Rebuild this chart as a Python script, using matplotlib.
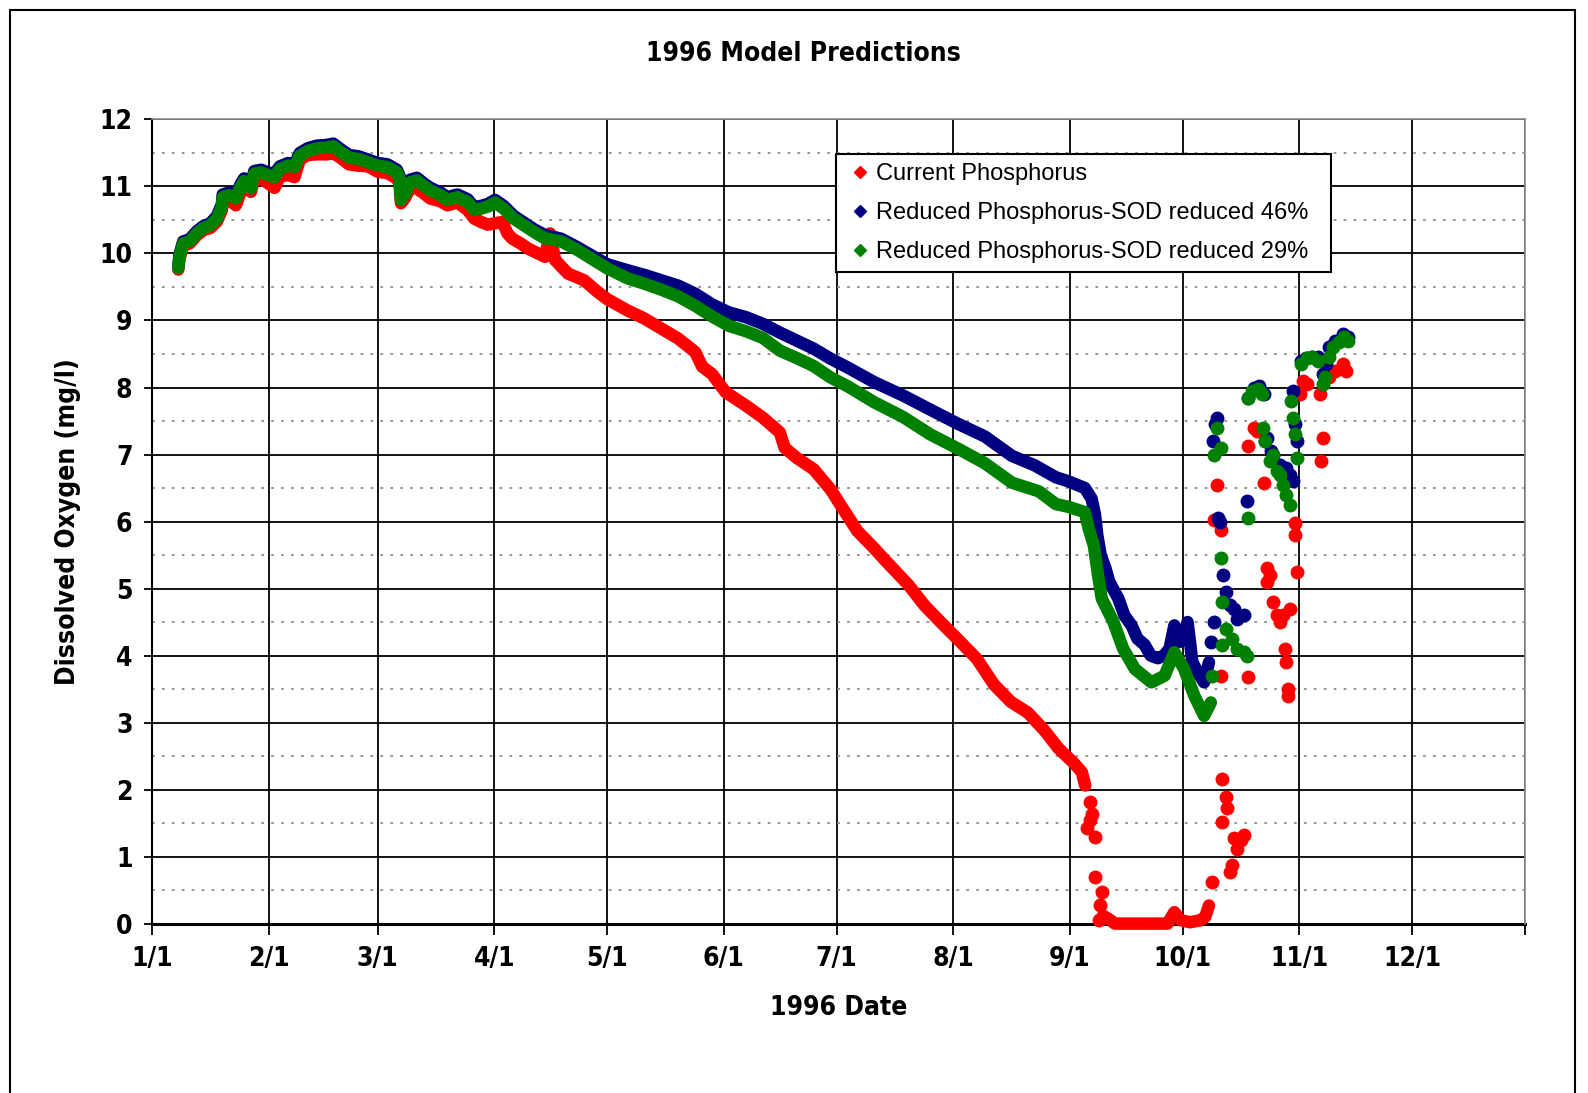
import matplotlib
matplotlib.use('Agg')
import matplotlib.pyplot as plt
from matplotlib.lines import Line2D
from matplotlib.patches import Rectangle
from matplotlib import font_manager
import pandas as pd

# day of year (0 = Jan 1, 1996) and dissolved oxygen (mg/l)
red_days = [7.0, 7.3, 8.3, 10, 11.9, 13.7, 15.5, 17.3, 18.6, 18.8, 20.5, 22.3, 23.6, 24.5, 26.3, 27.2,
            29, 30.8, 32.6, 34, 36.2, 37.9, 39.3, 41.4, 43.9, 46.5, 48.2, 50.3, 52.4, 54.9, 57.5, 60,
            62.6, 65.1, 65.8, 66.2, 67.3, 68.6, 70.4, 72.2, 74, 76.7, 78.5, 81.2, 83.9, 85.7, 87.5,
            89.3, 91, 93.2, 94.5, 95.8, 98, 100.1, 104.5, 105.8, 107.2, 110.6, 114.9, 118.4, 121,
            126.4, 130.9, 135.4, 139.9, 144.4, 146.3, 148.9, 152.5, 157.9, 162.4, 166.9, 168.2, 171.4,
            175.9, 180.4, 183, 187.5, 192, 195.6, 201, 205.5, 210, 214.8, 219.3, 223.8, 228.3, 232.8,
            237.3, 240.9, 242, 245, 247.2, 248.1]
red_do = [9.76, 9.92, 10.12, 10.15, 10.27, 10.35, 10.38, 10.48, 10.65, 10.78, 10.8, 10.72, 10.92, 11.0,
          10.92, 11.12, 11.12, 11.05, 10.98, 11.15, 11.17, 11.14, 11.4, 11.47, 11.48, 11.48, 11.5,
          11.42, 11.33, 11.31, 11.3, 11.22, 11.2, 11.12, 11.05, 10.75, 10.83, 10.98, 10.97, 10.9,
          10.82, 10.78, 10.72, 10.76, 10.65, 10.52, 10.47, 10.43, 10.45, 10.47, 10.3, 10.22, 10.15,
          10.07, 9.95, 10.3, 9.9, 9.7, 9.6, 9.43, 9.32, 9.15, 9.03, 8.88, 8.73, 8.53, 8.31, 8.2, 7.93,
          7.73, 7.55, 7.33, 7.1, 6.95, 6.78, 6.48, 6.25, 5.86, 5.6, 5.38, 5.06, 4.74, 4.48, 4.21,
          3.95, 3.57, 3.31, 3.15, 2.88, 2.62, 2.56, 2.4, 2.26, 2.06]
red_zero_days = [252.8, 254.3, 256, 260, 265, 270, 271.8, 273.5, 276, 278.8, 280, 281]
red_zero_do = [0.12, 0.07, 0.0, 0.0, 0.0, 0.0, 0.17, 0.05, 0.02, 0.05, 0.1, 0.27]
red_pt_days = [249.4, 249.9, 248.6, 250.8, 249.5, 250.8, 252.5, 252.1, 251.7, 281.9, 282.3, 283.2,
               284.1, 284.1, 284.5, 285.4, 285.8, 284.5, 286.7, 287.1, 287.6, 288.5, 289.5, 290.2,
               291.5, 291.5, 292.9, 293.8, 295.5, 296.4, 296.4, 297.2, 298.1, 299.0, 299.9, 300.8,
               302.5, 301.2, 301.6, 302.1, 302.1, 303.8, 303.8, 304.3, 305.2, 306.0, 307.0, 310.4,
               310.9, 311.3, 313.0, 314.5, 316.5, 317.4]
red_pt_do = [1.82, 1.64, 1.42, 1.29, 1.55, 0.7, 0.47, 0.27, 0.05, 0.62, 6.02, 6.55, 5.87, 3.7, 2.16,
             1.89, 1.72, 1.52, 0.77, 0.87, 1.27, 1.12, 1.25, 1.32, 3.68, 7.12, 7.4, 7.35, 6.57, 5.3,
             5.1, 5.2, 4.8, 4.6, 4.5, 4.6, 4.7, 4.1, 3.9, 3.5, 3.4, 5.98, 5.8, 5.25, 7.9, 8.1, 8.05,
             7.9, 6.9, 7.25, 8.15, 8.25, 8.35, 8.25]

blue_days = [7.0, 7.3, 8.3, 10, 11.9, 13.7, 15.5, 17.3, 18.6, 18.8, 20.5, 22.3, 23.6, 24.5, 26.3, 27.2,
             29, 30.8, 32.6, 34, 36.2, 37.9, 39.3, 41.4, 43.9, 46.5, 48.2, 50.3, 52.4, 54.9, 57.5, 60,
             62.6, 65.1, 65.8, 66.2, 67.3, 68.6, 70.4, 72.2, 74, 76.7, 78.5, 81.2, 83.9, 85.7, 87.5,
             89.3, 91.2, 93.5, 96.2, 98.9, 101.6, 104.3, 108.8, 113.2, 117.5, 121, 126.4, 130.9, 135.4,
             139.9, 144.4, 148.9, 153.4, 157.9, 162.4, 166.9, 171.4, 175.9, 180.4, 184.9, 192, 199.7,
             206.9, 214.2, 221.4, 228.6, 234.6, 240.3, 243.6, 248, 249.8, 250.7, 251.3, 252.2, 253.5,
             254.5, 256.9, 258.5, 260.4, 262, 263.9, 265.5, 267.4, 269, 270.5, 271.8, 273, 274.2,
             275.3, 276.6, 278, 279.7, 281.0]
blue_do = [9.8, 9.98, 10.18, 10.21, 10.33, 10.41, 10.45, 10.56, 10.74, 10.88, 10.91, 10.86, 11.04,
           11.12, 11.01, 11.23, 11.25, 11.21, 11.19, 11.3, 11.35, 11.33, 11.5, 11.57, 11.61, 11.62,
           11.64, 11.55, 11.47, 11.45, 11.4, 11.35, 11.33, 11.25, 11.16, 10.85, 10.92, 11.1, 11.13,
           11.05, 10.98, 10.91, 10.84, 10.88, 10.81, 10.69, 10.71, 10.74, 10.8, 10.71, 10.56, 10.46,
           10.36, 10.28, 10.22, 10.09, 9.95, 9.84, 9.75, 9.68, 9.6, 9.52, 9.4, 9.24, 9.12, 9.05, 8.95,
           8.82, 8.7, 8.58, 8.43, 8.3, 8.08, 7.88, 7.67, 7.46, 7.27, 6.98, 6.84, 6.66, 6.6, 6.5, 6.34,
           6.1, 5.8, 5.5, 5.3, 5.1, 4.85, 4.6, 4.45, 4.25, 4.16, 4.0, 3.96, 4.0, 4.1, 4.45, 4.2, 4.3,
           4.5, 3.9, 3.75, 3.6, 3.9]
blue_pt_days = [281.5, 282.3, 282.0, 282.6, 283.2, 283.5, 284.0, 284.8, 285.4, 286.5, 287.6, 288.5,
                290.2, 291.1, 291.5, 292.9, 294.2, 295.5, 295.8, 296.4, 297.5, 298.1, 299.9, 301.6,
                302.5, 303.4, 303.4, 304.0, 304.3, 305.5, 306.9, 308.5, 310.0, 311.3, 312.0, 313.0,
                314.5, 316.5, 318.0]
blue_pt_do = [4.2, 4.5, 7.2, 7.45, 7.55, 6.05, 6.0, 5.2, 4.95, 4.75, 4.7, 4.55, 4.6, 6.3, 7.85, 8.0,
              8.02, 7.9, 7.2, 7.25, 7.05, 7.0, 6.85, 6.8, 6.7, 6.6, 7.95, 7.45, 7.2, 8.4, 8.44, 8.45,
              8.45, 8.2, 8.35, 8.6, 8.7, 8.8, 8.75]

green_days = [7.0, 7.3, 8.3, 10, 11.9, 13.7, 15.5, 17.3, 18.6, 18.8, 20.5, 22.3, 23.6, 24.5, 26.3, 27.2,
              29, 30.8, 32.6, 34, 36.2, 37.9, 39.3, 41.4, 43.9, 46.5, 48.2, 50.3, 52.4, 54.9, 57.5, 60,
              62.6, 65.1, 65.8, 66.2, 67.3, 68.6, 70.4, 72.2, 74, 76.7, 78.5, 81.2, 83.9, 85.7, 87.5,
              89.3, 91.2, 93.5, 96.2, 98.9, 101.6, 104.3, 108.8, 113.2, 117.5, 121, 126.4, 130.9, 135.4,
              139.9, 144.4, 148.9, 153.4, 157.9, 162.4, 166.9, 171.4, 175.9, 180.4, 184.9, 192, 199.7,
              206.9, 214.2, 221.4, 228.6, 235.8, 240.3, 243.6, 248, 249, 250.4, 251.5, 252.5, 255.6,
              258.2, 261.3, 265.7, 269.2, 271.8, 274.4, 277.1, 279.7, 281.5]
green_do = [9.78, 9.95, 10.15, 10.18, 10.3, 10.38, 10.42, 10.52, 10.7, 10.84, 10.87, 10.82, 11.0, 11.08,
            10.97, 11.19, 11.21, 11.17, 11.14, 11.26, 11.31, 11.29, 11.46, 11.53, 11.57, 11.58, 11.6,
            11.51, 11.43, 11.41, 11.36, 11.31, 11.29, 11.21, 11.12, 10.8, 10.88, 11.06, 11.09, 11.01,
            10.94, 10.87, 10.8, 10.84, 10.77, 10.65, 10.67, 10.7, 10.76, 10.67, 10.52, 10.42, 10.32,
            10.23, 10.18, 10.05, 9.9, 9.78, 9.63, 9.55, 9.46, 9.36, 9.22, 9.06, 8.92, 8.84, 8.74, 8.55,
            8.44, 8.32, 8.15, 8.02, 7.78, 7.56, 7.3, 7.09, 6.87, 6.58, 6.45, 6.26, 6.22, 6.14, 5.9,
            5.64, 5.2, 4.85, 4.5, 4.1, 3.8, 3.6, 3.7, 4.05, 3.8, 3.4, 3.1, 3.3]
green_pt_days = [281.9, 284.5, 284.5, 284.1, 282.3, 283.2, 284.1, 285.5, 287.1, 288.5, 290.2, 291.0,
                 291.5, 291.5, 292.5, 294.0, 295.0, 295.3, 296.0, 297.2, 298.0, 299.0, 300.0, 300.7,
                 301.5, 302.5, 302.9, 303.4, 303.8, 304.3, 305.5, 307.0, 308.5, 310.0, 311.3, 311.8,
                 313.0, 313.9, 315.5, 316.9, 318.0]
green_pt_do = [3.7, 4.15, 4.8, 5.45, 7.0, 7.4, 7.1, 4.4, 4.25, 4.1, 4.05, 4.0, 6.05, 7.85, 7.95, 7.98,
               7.9, 7.4, 7.2, 6.9, 7.0, 6.75, 6.7, 6.55, 6.4, 6.25, 7.8, 7.55, 7.3, 6.95, 8.35, 8.44,
               8.45, 8.4, 8.05, 8.15, 8.45, 8.6, 8.68, 8.75, 8.7]

series_names = ['Current Phosphorus', 'Reduced Phosphorus-SOD reduced 46%',
                'Reduced Phosphorus-SOD reduced 29%']
series_colors = ['#ff0000', '#000080', '#008000']

month_starts = pd.date_range('1996-01-01', periods=12, freq='MS')
month_days = list((month_starts - pd.Timestamp('1996-01-01')).days)
month_labels = [f'{d.month}/{d.day}' for d in month_starts]
year_end = (pd.Timestamp('1996-12-31') - pd.Timestamp('1996-01-01')).days

names = {f.name for f in font_manager.fontManager.ttflist}
plain = 'Liberation Sans' if 'Liberation Sans' in names else 'DejaVu Sans'
# condensed bold face for the titles and tick labels
bold_font = dict(family='DejaVu Sans', stretch='condensed', weight='bold')

fig = plt.figure(figsize=(15.88, 10.93), dpi=100)
ax = fig.add_axes([0.0957, 0.155, 0.8646, 0.7357])

# outer chart frame
fig.add_artist(Rectangle((0.0063, -0.05), 0.9857, 1.0409, transform=fig.transFigure,
                         fill=False, edgecolor='black', lw=1.5))

line_kw = dict(lw=9, solid_joinstyle='round', solid_capstyle='round', clip_on=False)
pt_kw = dict(ls='none', marker='o', ms=9, clip_on=False)

ax.plot(red_days, red_do, color=series_colors[0], zorder=3, **line_kw)
ax.plot(red_zero_days, red_zero_do, color=series_colors[0], zorder=3, **line_kw)
ax.plot(red_pt_days, red_pt_do, color=series_colors[0], zorder=3, **pt_kw)
ax.plot(blue_days, blue_do, color=series_colors[1], zorder=4, **line_kw)
ax.plot(blue_pt_days, blue_pt_do, color=series_colors[1], zorder=4, **pt_kw)
ax.plot(green_days, green_do, color=series_colors[2], zorder=5, **line_kw)
ax.plot(green_pt_days, green_pt_do, color=series_colors[2], zorder=5, **pt_kw)

ax.set_xlim(0, year_end)
ax.set_ylim(0, 12)
ax.set_xticks(month_days + [year_end])
ax.set_xticklabels(month_labels + [''])
ax.set_yticks(range(0, 13))
ax.set_yticks([v + 0.5 for v in range(12)], minor=True)

ax.grid(True, which='major', color='black', lw=1.3, zorder=1)
ax.grid(True, which='minor', axis='y', color='#8c8c8c', lw=1.3, ls=(0, (1.5, 4)), zorder=1)
ax.set_axisbelow(True)
ax.tick_params(which='major', direction='out', length=6, width=1.3, color='black', pad=8)
ax.tick_params(which='minor', length=0)
ax.tick_params(axis='x', length=8)

for lab in ax.get_xticklabels() + ax.get_yticklabels():
    lab.set_fontfamily(bold_font['family'])
    lab.set_fontstretch(bold_font['stretch'])
    lab.set_fontweight(bold_font['weight'])
    lab.set_fontsize(19)

ax.spines['left'].set_color('black')
ax.spines['left'].set_linewidth(1.5)
ax.spines['bottom'].set_color('black')
ax.spines['bottom'].set_linewidth(2.2)
ax.spines['bottom'].set_zorder(2)
for s in ['top', 'right']:
    ax.spines[s].set_color('#8c8c8c')
    ax.spines[s].set_linewidth(1.2)

ax.set_xlabel('1996 Date', fontsize=19, labelpad=17, **bold_font)
ax.set_ylabel('Dissolved Oxygen (mg/l)', fontsize=19, labelpad=13, **bold_font)
fig.text(0.5057, 0.951, '1996 Model Predictions', ha='center', va='center',
         fontsize=19, **bold_font)

handles = [Line2D([], [], ls='none', marker='D', ms=6, color=c) for c in series_colors]
leg = ax.legend(handles, series_names, loc='upper left', mode='expand',
                bbox_to_anchor=(0.4985, 0.813, 0.36, 0.144),
                prop={'family': plain, 'size': 17}, frameon=True, fancybox=False,
                borderaxespad=0, handlelength=1.2, handletextpad=0.1, labelspacing=0.72,
                borderpad=0.38)
leg.get_frame().set_edgecolor('black')
leg.get_frame().set_linewidth(1.5)
leg.get_frame().set_alpha(1)
leg.set_zorder(10)

fig.savefig('out.png', dpi=100)
